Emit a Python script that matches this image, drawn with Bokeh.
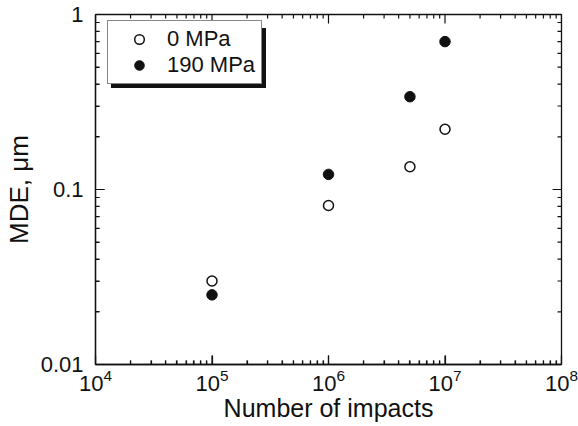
from bokeh.plotting import figure
from bokeh.models import (FixedTicker, BasicTickFormatter, LogTickFormatter,
                          Legend, LegendItem, Range1d)
from bokeh.embed import file_html
from bokeh.resources import INLINE

# Mean depth of erosion versus number of impacts, for two stress levels
impacts_0mpa = [1e5, 1e6, 5e6, 1e7]
mde_0mpa = [0.030, 0.081, 0.135, 0.221]

impacts_190mpa = [1e5, 1e6, 5e6, 1e7]
mde_190mpa = [0.025, 0.122, 0.339, 0.70]

series_labels = ["0 MPa", "190 MPa"]

x_lo, x_hi = 1e4, 1e8
y_lo, y_hi = 0.01, 1
x_major = [1e4, 1e5, 1e6, 1e7, 1e8]
x_minor = [m * d for d in [1e4, 1e5, 1e6, 1e7] for m in range(2, 10)]
y_major = [0.01, 0.1, 1]
y_minor = [m * d for d in [0.01, 0.1] for m in range(2, 10)]

FONT = "Liberation Sans"
INK = "#111111"

W, H = 578, 426
LEFT, RIGHT, TOP, BOTTOM = 93, 17, 14, 62
frame_w = W - LEFT - RIGHT
frame_h = H - TOP - BOTTOM

p = figure(width=W, height=H, x_axis_type="log", y_axis_type="log",
           x_range=Range1d(x_lo, x_hi), y_range=Range1d(y_lo, y_hi),
           output_backend="svg", toolbar_location=None,
           min_border_left=LEFT, min_border_right=RIGHT,
           min_border_top=TOP, min_border_bottom=BOTTOM,
           background_fill_color="white", border_fill_color="white")
p.grid.visible = False
p.outline_line_color = INK
p.outline_line_width = 1.3

MAJOR_LEN, MINOR_LEN = 9, 4

for ax in (p.xaxis[0], p.yaxis[0]):
    ax.axis_line_color = INK
    ax.axis_line_width = 1.3
    ax.major_tick_line_color = INK
    ax.minor_tick_line_color = INK
    ax.major_tick_line_width = 1.2
    ax.minor_tick_line_width = 1.2
    ax.major_tick_in = MAJOR_LEN
    ax.minor_tick_in = MINOR_LEN
    ax.major_tick_out = 0
    ax.minor_tick_out = 0
    ax.major_label_text_font = FONT
    ax.major_label_text_font_size = "22px"
    ax.major_label_text_color = INK
    ax.axis_label_text_font = FONT
    ax.axis_label_text_font_style = "normal"
    ax.axis_label_text_color = INK

xa = p.xaxis[0]
xa.ticker = FixedTicker(ticks=x_major, minor_ticks=x_minor)
xa.formatter = LogTickFormatter()
xa.axis_label = "Number of impacts"
xa.axis_label_text_font_size = "25px"
xa.major_label_standoff = 4
xa.axis_label_standoff = 0

ya = p.yaxis[0]
ya.ticker = FixedTicker(ticks=y_major, minor_ticks=y_minor)
ya.formatter = BasicTickFormatter()
ya.axis_label = "MDE, μm"
ya.axis_label_text_font_size = "26px"
ya.major_label_standoff = 12
ya.axis_label_standoff = 4

# Inward tick marks on all four frame edges, as short segments that lie
# inside the frame. A tick of n pixels spans a factor of 10**(n * decades / px).
x_decades_per_px = 4 / frame_w
y_decades_per_px = 2 / frame_h
seg_style = dict(line_color=INK, line_width=1.2)

for ticks, length in ((x_major, MAJOR_LEN), (x_minor, MINOR_LEN)):
    f = 10 ** (length * y_decades_per_px)
    n = len(ticks)
    p.segment(x0=ticks, y0=[y_lo] * n, x1=ticks, y1=[y_lo * f] * n, **seg_style)
    p.segment(x0=ticks, y0=[y_hi] * n, x1=ticks, y1=[y_hi / f] * n, **seg_style)

for ticks, length in ((y_major, MAJOR_LEN), (y_minor, MINOR_LEN)):
    f = 10 ** (length * x_decades_per_px)
    n = len(ticks)
    p.segment(x0=[x_lo] * n, y0=ticks, x1=[x_lo * f] * n, y1=ticks, **seg_style)
    p.segment(x0=[x_hi] * n, y0=ticks, x1=[x_hi / f] * n, y1=ticks, **seg_style)

r0 = p.scatter(impacts_0mpa, mde_0mpa, size=10, marker="circle",
               fill_color="white", line_color=INK, line_width=1.5)
r1 = p.scatter(impacts_190mpa, mde_190mpa, size=10.5, marker="circle",
               fill_color=INK, line_color=INK, line_width=1)

leg_margin = 12
leg_h = 5 + 24 * 2 + 5
shadow = 4


def make_legend(dx, bg, labels):
    return Legend(
        items=[LegendItem(label=labels[0], renderers=[r0]),
               LegendItem(label=labels[1], renderers=[r1])],
        location=(leg_margin + dx, frame_h - leg_margin - leg_h - dx),
        padding=5, spacing=0, margin=0,
        glyph_width=52, glyph_height=24, label_height=24, label_width=89,
        label_standoff=2,
        label_text_font=FONT, label_text_font_size="22px", label_text_color=INK,
        border_line_color=INK, border_line_width=1.3,
        background_fill_color=bg, background_fill_alpha=1.0)


# dark backing box offset down-right, then the legend itself on top of it
p.add_layout(make_legend(shadow, INK, [" ", " "]), "center")
p.add_layout(make_legend(0, "white", series_labels), "center")

open("out.html", "w").write(file_html(p, INLINE))
